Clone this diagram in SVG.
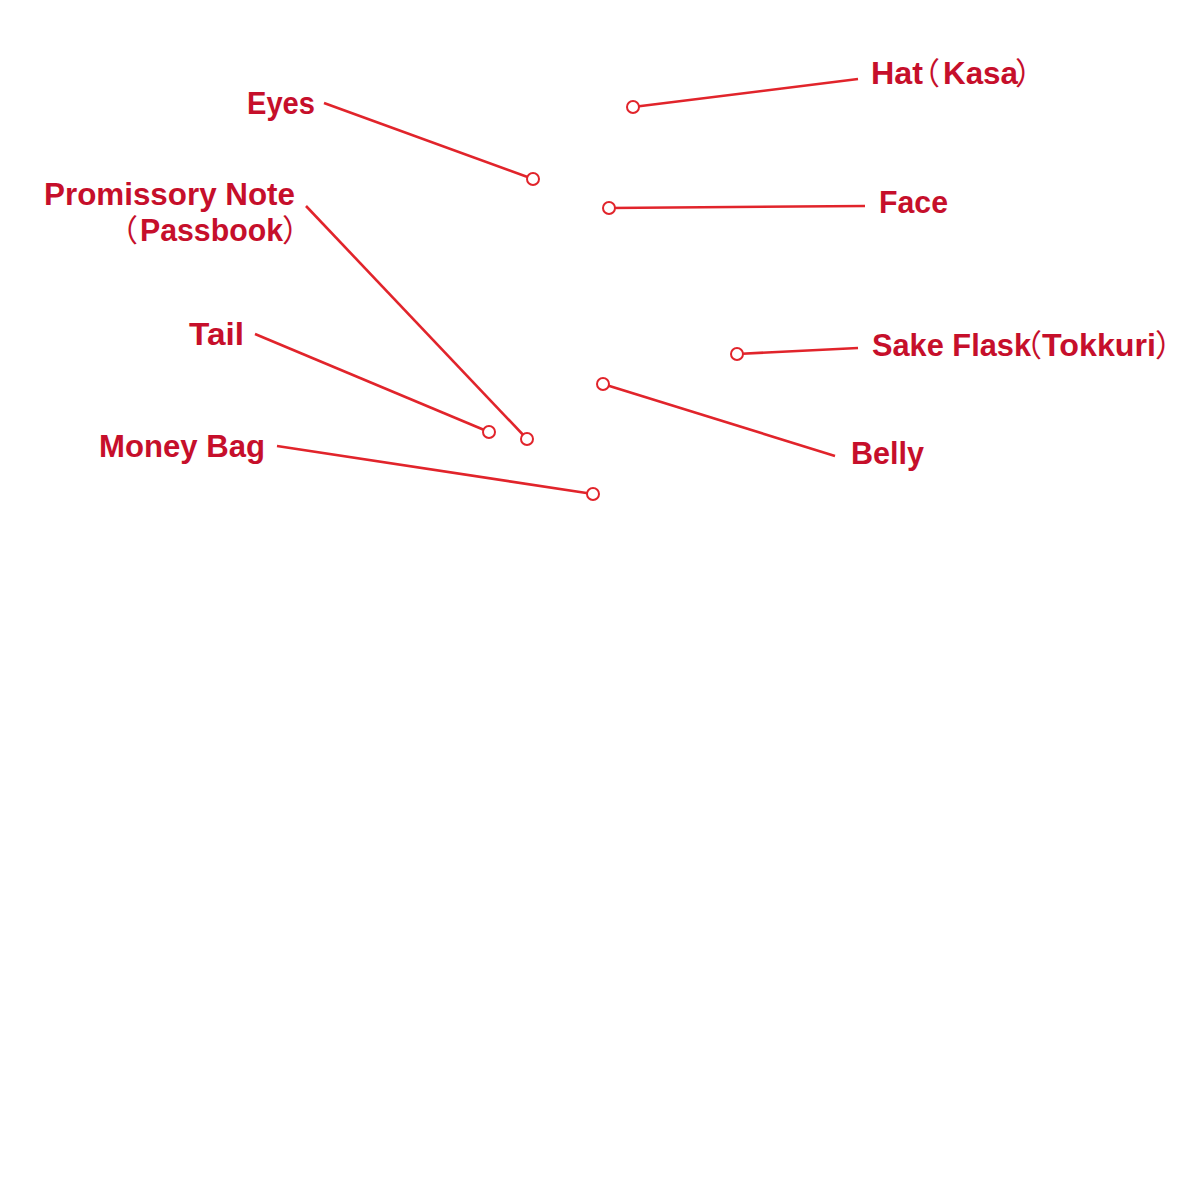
<svg xmlns="http://www.w3.org/2000/svg" width="1200" height="1200" viewBox="0 0 1200 1200">
<style>
.lbl{font-family:"Liberation Sans","Noto Sans CJK JP",sans-serif;font-weight:bold;font-size:31px;fill:#c60f2b}
.par{font-family:"Noto Sans CJK JP",sans-serif;font-weight:normal}
.ln{stroke:#e1242b;stroke-width:2.6;fill:none}
.pt{stroke:#e1242b;stroke-width:2;fill:#fff}
</style>
<rect width="1200" height="1200" fill="#fff"/>
<g id="connectors">
<line class="ln" x1="633" y1="107" x2="858" y2="79"/>
<line class="ln" x1="324" y1="103" x2="533" y2="179"/>
<line class="ln" x1="609" y1="208" x2="865" y2="206"/>
<line class="ln" x1="306" y1="206" x2="527" y2="439"/>
<line class="ln" x1="255" y1="334" x2="489" y2="432"/>
<line class="ln" x1="277" y1="446" x2="593" y2="494"/>
<line class="ln" x1="737" y1="354" x2="858" y2="348"/>
<line class="ln" x1="603" y1="384" x2="835" y2="456"/>
</g>
<g id="hat"><circle class="pt" cx="633" cy="107" r="6"/><text class="lbl" y="84"><tspan x="871" textLength="52" lengthAdjust="spacingAndGlyphs">Hat</tspan><tspan class="par" x="909">（</tspan><tspan x="943" textLength="75" lengthAdjust="spacingAndGlyphs">Kasa</tspan><tspan class="par" x="1015">）</tspan></text></g>
<g id="eyes"><circle class="pt" cx="533" cy="179" r="6"/><text class="lbl" x="247" y="114" textLength="68" lengthAdjust="spacingAndGlyphs">Eyes</text></g>
<g id="face"><circle class="pt" cx="609" cy="208" r="6"/><text class="lbl" x="879" y="213" textLength="69" lengthAdjust="spacingAndGlyphs">Face</text></g>
<g id="promissory-note"><circle class="pt" cx="527" cy="439" r="6"/><text class="lbl" x="44" y="205" textLength="251" lengthAdjust="spacingAndGlyphs">Promissory Note</text><text class="lbl" y="241"><tspan class="par" x="107">（</tspan><tspan x="140" textLength="143" lengthAdjust="spacingAndGlyphs">Passbook</tspan><tspan class="par" x="282">）</tspan></text></g>
<g id="tail"><circle class="pt" cx="489" cy="432" r="6"/><text class="lbl" x="189" y="345" textLength="55" lengthAdjust="spacingAndGlyphs">Tail</text></g>
<g id="money-bag"><circle class="pt" cx="593" cy="494" r="6"/><text class="lbl" x="99" y="457" textLength="166" lengthAdjust="spacingAndGlyphs">Money Bag</text></g>
<g id="sake-flask"><circle class="pt" cx="737" cy="354" r="6"/><text class="lbl" y="356"><tspan x="872" textLength="159" lengthAdjust="spacingAndGlyphs">Sake Flask</tspan><tspan class="par" x="1011">（</tspan><tspan x="1042" textLength="114" lengthAdjust="spacingAndGlyphs">Tokkuri</tspan><tspan class="par" x="1155">）</tspan></text></g>
<g id="belly"><circle class="pt" cx="603" cy="384" r="6"/><text class="lbl" x="851" y="464" textLength="73" lengthAdjust="spacingAndGlyphs">Belly</text></g>
</svg>
